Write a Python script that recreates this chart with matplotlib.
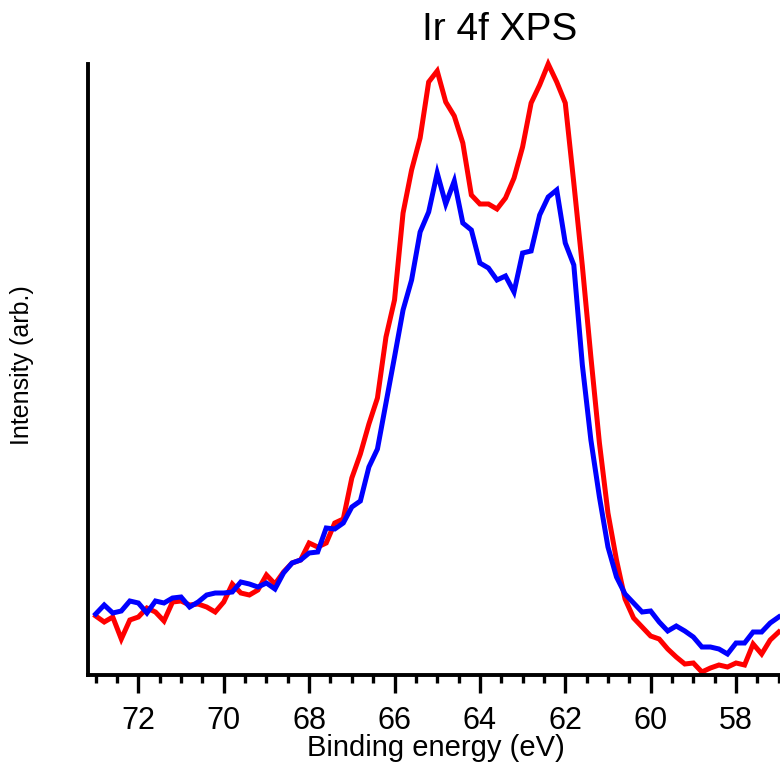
import numpy as np
import matplotlib
matplotlib.use("Agg")
import matplotlib.pyplot as plt
from matplotlib.ticker import MultipleLocator

plt.rcParams['font.family'] = ['Liberation Sans', 'DejaVu Sans']

# binding energy grid (eV), 0.2 eV steps
energy = [73.0, 72.8, 72.6, 72.4, 72.2, 72.0, 71.8, 71.6, 71.4, 71.2,
          71.0, 70.8, 70.6, 70.4, 70.2, 70.0, 69.8, 69.6, 69.4, 69.2,
          69.0, 68.8, 68.6, 68.4, 68.2, 68.0, 67.8, 67.6, 67.4, 67.2,
          67.0, 66.8, 66.6, 66.4, 66.2, 66.0, 65.8, 65.6, 65.4, 65.2,
          65.0, 64.8, 64.6, 64.4, 64.2, 64.0, 63.8, 63.6, 63.4, 63.2,
          63.0, 62.8, 62.6, 62.4, 62.2, 62.0, 61.8, 61.6, 61.4, 61.2,
          61.0, 60.8, 60.6, 60.4, 60.2, 60.0, 59.8, 59.6, 59.4, 59.2,
          59.0, 58.8, 58.6, 58.4, 58.2, 58.0, 57.8, 57.6, 57.4, 57.2,
          57.0]

# intensities (arb.)
red_vals = [59, 53, 58, 36, 55, 58, 67, 63, 54, 73,
            74, 70, 71, 68, 63, 73, 91, 82, 80, 85,
            100, 91, 103, 112, 115, 132, 128, 132, 152, 156,
            197, 221, 251, 277, 338, 375, 462, 505, 537, 593,
            604, 573, 559, 532, 480, 471, 471, 466, 477, 497,
            528, 572, 590, 611, 593, 572, 492, 409, 318, 232,
            162, 115, 76, 57, 48, 39, 36, 26, 18, 11,
            12, 3, 7, 10, 8, 12, 10, 31, 21, 35,
            43]

blue_vals = [61, 70, 62, 64, 74, 72, 62, 74, 72, 77,
             78, 68, 73, 80, 82, 82, 83, 93, 91, 88,
             92, 86, 102, 112, 115, 122, 123, 147, 146, 152,
             168, 174, 208, 226, 272, 318, 365, 395, 443, 463,
             502, 471, 494, 452, 445, 412, 407, 395, 399, 383,
             422, 424, 460, 478, 485, 432, 410, 310, 235, 178,
             128, 98, 81, 72, 63, 64, 53, 44, 49, 44,
             38, 28, 28, 26, 21, 32, 32, 43, 43, 52,
             58]

fig = plt.figure(figsize=(7.8, 7.64), dpi=100)
ax = fig.add_axes([88/780, 1 - 675/764, 1 - 88/780, (675 - 64)/764])

ax.plot(energy, red_vals, color='#ff0000', lw=3.6, clip_on=False, solid_joinstyle='miter')
ax.plot(energy, blue_vals, color='#0000ff', lw=3.6, clip_on=False, solid_joinstyle='miter')

ax.set_xlim(73.18, 56.97)
ax.set_ylim(0, 611)

for s in ['top', 'right']:
    ax.spines[s].set_visible(False)
for s in ['left', 'bottom']:
    ax.spines[s].set_linewidth(2.8)

ax.xaxis.set_major_locator(MultipleLocator(2))
ax.xaxis.set_minor_locator(MultipleLocator(0.5))
ax.tick_params(axis='x', which='major', direction='out', length=13, width=2.4,
               labelsize=22, pad=9)
ax.tick_params(axis='x', which='minor', direction='out', length=6, width=2.4)
ax.set_yticks([])

fig.text(436/780, 1 - 748/764, 'Binding energy (eV)', fontsize=21,
         ha='center', va='center')
fig.text(22/780, 1 - 365/764, 'Intensity (arb.)', fontsize=18,
         rotation=90, ha='center', va='center')
fig.text(500/780, 1 - 30/764, 'Ir 4f XPS', fontsize=28,
         ha='center', va='center')

fig.savefig('out.png', dpi=100)
